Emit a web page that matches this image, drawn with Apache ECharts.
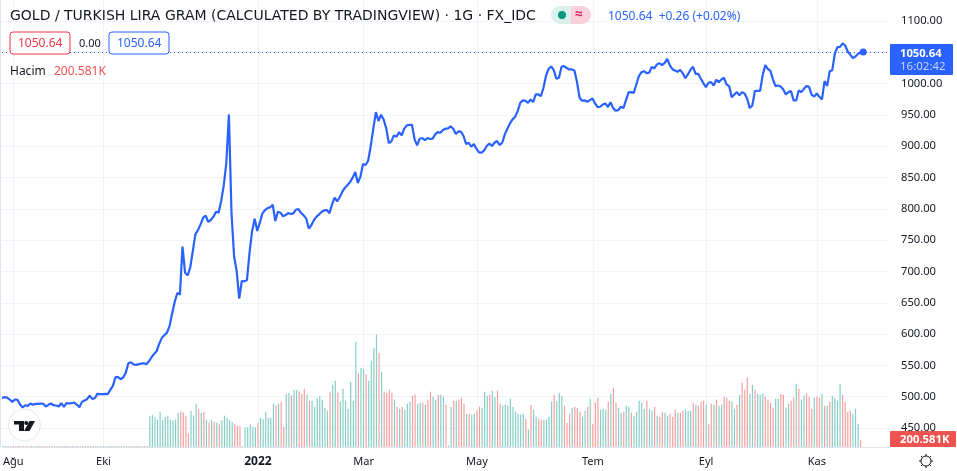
<!DOCTYPE html>
<html><head><meta charset="utf-8">
<style>html,body{margin:0;padding:0;background:#fff}#c{width:957px;height:471px}</style>
<script src="https://cdn.jsdelivr.net/npm/echarts@6/dist/echarts.min.js"></script>
</head><body><div id="c"></div>
<script>
const priceValues = [
498.1,499.2,498.6,495.5,491.7,495.5,494.9,487.5,482.7,486.4,485.4,489.1,487.0,488.5,488.5,489.1,488.5,484.3,487.0,489.1,
486.4,485.9,484.3,489.6,483.8,489.6,489.1,489.6,490.7,487.5,483.2,491.7,493.9,496.0,501.8,496.5,497.6,504.5,504.0,504.0,
504.5,504.0,510.9,517.3,531.1,531.1,527.9,530.6,538.5,553.4,555.0,551.8,550.8,552.0,552.9,553.4,551.8,556.6,563.0,568.3,
573.1,584.8,593.9,598.6,602.4,613.0,633.2,651.8,665.7,663.0,739.6,698.1,693.9,706.1,732.7,759.3,766.2,775.2,785.9,789.1,
779.0,782.2,787.5,795.4,793.9,812.5,837.5,873.6,950.8,793.9,724.7,700.8,656.6,684.8,684.3,686.4,730.0,764.6,784.3,764.6,
777.9,792.8,798.1,801.3,802.4,806.6,780.6,795.4,793.9,788.0,790.1,793.3,791.7,792.8,798.6,799.7,793.3,789.6,784.3,768.3,
774.2,782.2,787.5,791.2,795.5,797.6,798.2,792.9,807.2,817.8,812.0,818.9,827.4,833.8,838.1,842.8,849.8,858.8,841.3,851.4,
871.6,870.0,876.9,900.3,928.0,954.5,940.2,950.3,942.8,929.0,905.1,907.7,917.3,915.2,922.6,917.3,928.0,933.3,934.0,934.3,
910.9,901.4,912.0,913.1,909.9,913.1,911.5,912.0,918.9,922.6,921.6,925.8,928.0,928.5,931.7,928.0,919.4,923.7,923.2,916.3,
903.5,905.6,899.2,903.5,896.0,890.2,889.7,893.4,900.3,904.5,900.3,905.6,908.3,901.9,905.6,918.9,928.0,936.5,942.8,947.1,
956.1,969.4,973.2,972.6,969.4,974.8,970.5,982.7,982.7,980.1,993.4,1013.1,1023.7,1027.4,1021.6,1007.7,1009.3,1026.9,1028.0,1024.8,
1022.6,1022.6,1021.0,1002.4,977.4,972.6,973.2,971.0,973.7,976.4,968.4,962.5,963.1,966.7,968.3,962.5,970.4,960.9,956.6,957.7,
963.0,960.9,973.6,985.9,986.4,985.3,998.6,1011.9,1018.3,1019.9,1016.7,1017.3,1026.8,1024.2,1030.6,1032.7,1029.5,1033.2,1039.6,1029.0,
1023.1,1021.0,1018.8,1022.0,1016.7,1008.7,1014.6,1022.0,1026.8,1015.7,1015.7,1008.2,1000.8,994.4,1001.3,1002.4,997.0,1006.1,1002.4,1006.6,
1009.3,998.6,996.0,978.4,982.7,986.4,981.1,986.4,984.3,975.8,960.9,965.1,988.5,988.5,988.5,1013.5,1029.5,1023.6,1020.4,1006.6,
996.0,997.0,995.4,990.7,982.7,986.4,988.0,973.1,973.1,989.1,986.4,991.7,996.0,994.9,982.1,979.5,984.3,978.9,974.7,1004.0,
996.0,1019.9,1021.5,1048.1,1058.2,1058.7,1064.1,1060.9,1051.3,1046.0,1040.7,1043.3,1047.6,1050.2,1050.64
];
const earlyVolumes = [
30,30,30,30,30,30,30,30,30,30,30,30,30,30,30,30,30,30,30,30,
30,30,30,30,30,30,30,30,30,30,30,30,30,30,30,30,30,30,30,30,
30,30,30,30,30,30,30,30,30,30,30,30,30,30,30,30,30
];
const earlySides = "TTRTRRTRRTRRTRTRRRRTRTTRTRRTTRTRTRTTRTTTRTTTRTTRTRRTRRRR";
const volumeValues = [
920,970,900,820,1060,820,900,940,820,800,
830,1020,1060,1040,920,400,1090,940,1300,1150,
1020,1050,820,730,800,760,730,680,800,940,
880,800,750,700,640,620,20,590,590,680,
610,590,730,880,840,1060,880,880,1300,1240,
1300,1350,610,1600,1630,1550,1720,1720,1670,1600,
1750,1570,1390,1390,1200,1460,1520,
1420,1180,1090,1660,1870,1990,1630,1360,1750,1390,
1150,1960,1390,3160,2200,2380,2350,2170,1990,2590,
2980,3370,2830,2260,1660,1630,1720,1630,1420,1210,
1150,1210,1120,1300,1360,1540,1570,1300,1330,1330,
1270,1420,1660,1510,1420,1570,1570,1510,1270,40,
1210,1390,1390,1420,1480,1300,1000,1000,970,1000,
1090,1210,1180,1660,1540,1570,1690,1510,1690,1300,
1240,1270,1240,1450,1210,1060,1000,970,1000,850,
520,1270,1120,910,850,820,820,820,910,1360,
1570,1390,1630,1540,1240,730,1000,1180,1210,1180,
1060,910,1090,1210,1450,700,1330,1480,1120,1150,
1120,1360,1600,1780,1330,1180,1030,1060,1240,1210,
1030,940,1060,1390,
1330,1150,1390,1150,1090,1210,940,910,1060,1030,
940,1000,910,1120,1030,1030,1090,1120,1090,1090,
1330,1270,1240,1360,1390,1270,700,1300,1270,1420,
1240,1270,1510,1480,1390,1360,1150,1270,1570,1930,
1720,2080,1600,1870,1720,1600,1570,1600,1510,1420,
1330,1180,1450,1450,1600,1570,1180,1300,1390,1480,
1900,1750,1420,1540,1600,1510,1150,1480,1510,1480,
1600,1240,1240,1360,1540,1480,1390,1900,1570,1360,
1060,1090,1000,1150,700,200.581
];
const volumeSides =
"TTTTTTTTTT"+"TTRRRRTTTR"+"TRTRTRTRTT"+"TTTRRRTTTT"+"TTRTTTTTTR"+"TRRTTRTTRR"+"RTRTTTT"+
"TTTRTTRTTT"+"TTTTRTTRTT"+"TTRTRRRRTR"+"TRTTTRRTTR"+"TRRTTRTTRT"+"TRTRRRTRTT"+"RRTTTRTTRR"+"TTTTTTTTTR"+"TRTTRRTTTT"+"RTTTRRRTRR"+"RTTRTRRRTT"+"TRTRRTTRTT"+"RTTT"+
"TTRTTRTRRT"+"TRRRTRRTTT"+"RTRRRTRRTR"+"TTRRRTTRTR"+"RRTTRTTTRR"+"RRTTRRTTRR"+"TRTTRRRTRR"+"TRTRTTTTRR"+"RRTTTR";
const tickLabels = ["Ağu","Eki","2022","Mar","May","Tem","Eyl","Kas"];
const tickSlots  = [4,39,99,140,184,229,273,316];
const priceTicks = {min:450,max:1100,step:50};
const slotCount = 345;
const lastPrice = priceValues[priceValues.length-1];

const categories = Array.from({length:slotCount},(_,i)=>String(i));
const allVolumes = earlyVolumes.concat(volumeValues);
const allSides = (earlySides.padEnd(earlyVolumes.length,"T")+volumeSides).split("");
const TEAL="#86cec7", RED="#f6a09e", BLUE="#2962ff", GRID="#f0f3fa", TXT="#131722";
const FF="'Noto Sans', Roboto, sans-serif";
const isTick=i=>tickSlots.includes(i);
const sunRays=[[926,454,926,456],[926,466,926,468],[919,461,921,461],[931,461,933,461],[921,456,922.5,457.5],[929.5,464.5,931,466],[931,456,929.5,457.5],[922.5,464.5,921,466]];

const chart=echarts.init(document.getElementById('c'),null,{renderer:'canvas'});
chart.setOption({
 animation:false,
 backgroundColor:'#fff',
 textStyle:{fontFamily:FF},
 grid:[
  {left:2,width:887,top:21,height:407},
  {left:2,width:887,top:0,height:447}
 ],
 xAxis:[
  {gridIndex:0,type:'category',data:categories,boundaryGap:false,show:false},
  {gridIndex:1,type:'category',data:categories,boundaryGap:false,
   axisLine:{show:true,lineStyle:{color:'#e0e3eb',width:1}},
   axisTick:{show:false},
   splitLine:{show:true,interval:(i)=>isTick(i),lineStyle:{color:GRID,width:1}},
   axisLabel:{interval:(i)=>isTick(i),margin:9,color:TXT,fontSize:11,fontFamily:FF,
     formatter:(v,i)=>{const k=tickSlots.indexOf(Number(v));if(k<0)return '';const t=tickLabels[k];return t==='2022'?'{b|'+t+'}':t;},
     rich:{b:{fontSize:12,fontWeight:'bold',color:TXT,fontFamily:FF}}}}
 ],
 yAxis:[
  {gridIndex:0,type:'value',position:'right',min:priceTicks.min,max:priceTicks.max,interval:priceTicks.step,
   axisLine:{show:false},axisTick:{show:false},
   splitLine:{show:true,lineStyle:{color:GRID,width:1}},
   axisLabel:{margin:12,color:TXT,fontSize:11.2,fontFamily:FF,align:'left',padding:[3,0,0,0],formatter:v=>v.toFixed(2)}},
  {gridIndex:1,type:'value',min:0,max:13410,show:false,splitLine:{show:false}}
 ],
 series:[
  {type:'bar',xAxisIndex:1,yAxisIndex:1,barWidth:1.2,z:1,
   data:allVolumes.map((v,i)=>({value:v,itemStyle:{color:allSides[i]==='R'?RED:TEAL}}))},
  {type:'line',xAxisIndex:0,yAxisIndex:0,data:priceValues,showSymbol:false,symbol:'none',z:3,clip:false,
   lineStyle:{color:BLUE,width:2.2},
   markLine:{silent:true,symbol:'none',label:{show:false},lineStyle:{color:BLUE,type:[1,3],width:1},data:[{yAxis:lastPrice}],animation:false},
   markPoint:{silent:true,symbol:'circle',symbolSize:7,itemStyle:{color:BLUE},label:{show:false},
     data:[{coord:[String(priceValues.length-1),lastPrice]}]}}
 ],
 graphic:[
  {type:'rect',shape:{x:0,y:0,width:1,height:447},style:{fill:'#e0e3eb'},silent:true,z:5},
  {type:'text',x:10,y:9,style:{text:'GOLD / TURKISH LIRA GRAM (CALCULATED BY TRADINGVIEW) · 1G · FX_IDC',fontSize:14,fontFamily:"'DejaVu Sans'",fill:TXT},z:6},
  {type:'rect',shape:{x:10,y:32,width:60,height:22,r:3},style:{fill:'#fff',stroke:'#f23645',lineWidth:1},z:6},
  {type:'text',x:18,y:38,style:{text:'1050.64',fontSize:12,fontFamily:FF,fill:'#f23645'},z:7},
  {type:'text',x:79,y:38,style:{text:'0.00',fontSize:11,fontFamily:FF,fill:TXT},z:7},
  {type:'rect',shape:{x:109,y:32,width:60,height:22,r:3},style:{fill:'#fff',stroke:BLUE,lineWidth:1},z:6},
  {type:'text',x:117,y:38,style:{text:'1050.64',fontSize:12,fontFamily:FF,fill:BLUE},z:7},
  {type:'text',x:10,y:66,style:{text:'Hacim',fontSize:12,fontFamily:FF,fill:TXT},z:7},
  {type:'text',x:54,y:66,style:{text:'200.581K',fontSize:12,fontFamily:FF,fill:'#ef5350'},z:7},
  {type:'rect',shape:{x:551,y:6,width:20,height:18,r:[9,0,0,9]},style:{fill:'#d9f0ed'},z:6},
  {type:'rect',shape:{x:571,y:6,width:20,height:18,r:[0,9,9,0]},style:{fill:'#fbd0dc'},z:6},
  {type:'circle',shape:{cx:562,cy:15,r:4},style:{fill:'#089981'},z:7},
  {type:'text',x:575,y:7,style:{text:'≈',fontSize:14,fontWeight:'bold',fontFamily:FF,fill:'#d81b60'},z:7},
  {type:'text',x:608,y:11,style:{text:'1050.64  +0.26 (+0.02%)',fontSize:12,fontFamily:FF,fill:BLUE},z:7},
  {type:'rect',shape:{x:890,y:44,width:63,height:31,r:1},style:{fill:BLUE},z:6},
  {type:'text',x:900,y:48,style:{text:'1050.64',fontSize:11.2,fontWeight:'bold',fontFamily:FF,fill:'#fff'},z:7},
  {type:'text',x:900,y:61,style:{text:'16:02:42',fontSize:11.5,fontFamily:FF,fill:'#c5d3ff'},z:7},
  {type:'rect',shape:{x:890,y:431,width:66,height:16,r:1},style:{fill:'#ef5350'},z:6},
  {type:'text',x:900,y:434,style:{text:'200.581K',fontSize:11.3,fontWeight:'bold',fontFamily:FF,fill:'#fff'},z:7},
  {type:'circle',shape:{cx:24.5,cy:425,r:16},style:{fill:'#fff',stroke:'#e8e8ea',lineWidth:1},z:4},
  {type:'polygon',shape:{points:[[14,421],[24,421],[24,431],[19,431],[19,424.5],[14,424.5]]},style:{fill:'#131722'},z:5},
  {type:'circle',shape:{cx:26.2,cy:423,r:2},style:{fill:'#131722'},z:5},
  {type:'polygon',shape:{points:[[29.5,421],[35,421],[29.5,431],[24,431]]},style:{fill:'#131722'},z:5},
  {type:'circle',shape:{cx:926,cy:461,r:5},style:{fill:'#fff',stroke:TXT,lineWidth:1},z:5}
 ].concat(sunRays.map(r=>({type:'polyline',shape:{points:[[r[0],r[1]],[r[2],r[3]]]},style:{stroke:TXT,lineWidth:1},z:5})))
});
</script></body></html>
